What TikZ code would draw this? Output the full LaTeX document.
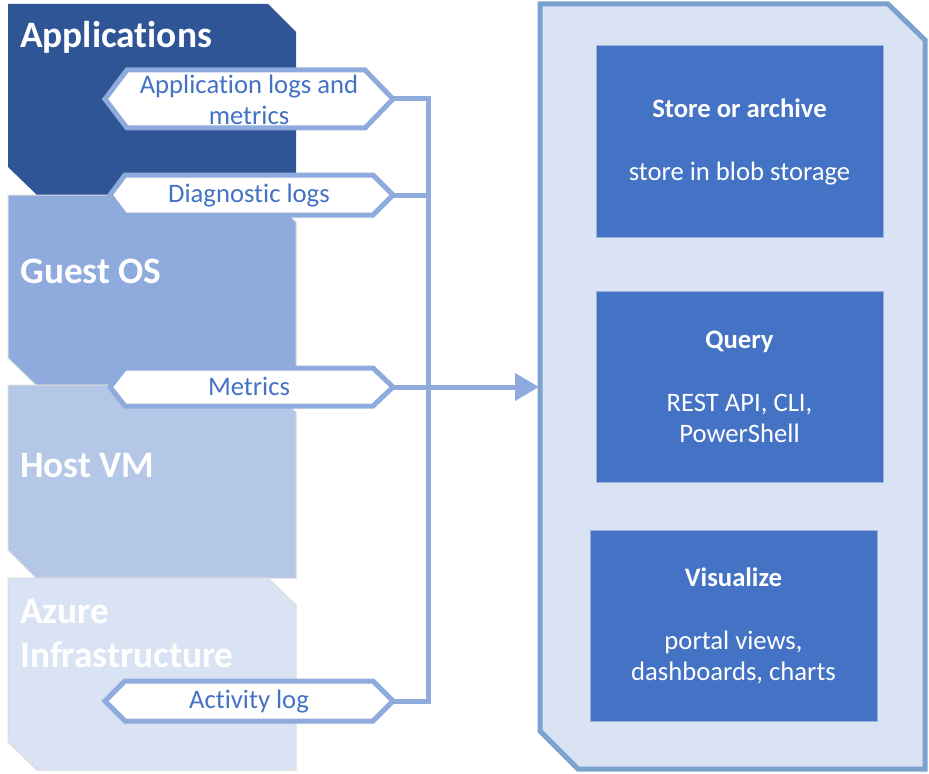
\documentclass[tikz,border=0pt]{standalone}
\usepackage{fontspec}
\setmainfont{Carlito}[Ligatures=NoCommon]
\usetikzlibrary{arrows.meta}
\definecolor{appblue}{HTML}{2F5597}
\definecolor{guestblue}{HTML}{8FAADC}
\definecolor{hostblue}{HTML}{B4C7E7}
\definecolor{azureblue}{HTML}{DAE3F3}
\definecolor{linkblue}{HTML}{8FAADC}
\definecolor{textblue}{HTML}{4472C4}
\definecolor{panelborder}{HTML}{7BA1CF}
\definecolor{cardblue}{HTML}{4472C4}
\definecolor{cardedge}{HTML}{9DB3DE}
\tikzset{
  layerbox/.style={draw=black!14, line width=0.75pt},
  layertitle/.style={text=white, inner sep=0pt, anchor=base west, font=\fontsize{28}{33}\selectfont\bfseries},
  tagshape/.style={draw=linkblue, fill=white, line width=3.75pt, line join=miter},
  tagtext/.style={text=textblue, inner sep=0pt, align=center, font=\fontsize{20}{23.25}\selectfont},
  link/.style={draw=linkblue, line width=3.75pt, line join=miter},
  panelbox/.style={draw=panelborder, fill=azureblue, line width=3.75pt, line join=miter},
  cardbox/.style={draw=cardedge, fill=cardblue, line width=0.75pt, text=white, align=center, inner sep=0pt,
    minimum width=215.25pt, minimum height=143.25pt, font=\fontsize{20}{23.6}\selectfont},
}
\begin{document}
\begin{tikzpicture}[x=0.75pt,y=-0.75pt]
\useasboundingbox (0,0) rectangle (929,774);
% layers
\fill[appblue] (8,4) -- (268,4) -- (296,32) -- (296,195) -- (37,195) -- (8,167) -- cycle;
\filldraw[layerbox, fill=guestblue] (8,195) -- (268,195) -- (296,222) -- (296,385) -- (36,385) -- (8,358) -- cycle;
\filldraw[layerbox, fill=hostblue] (8,385) -- (268,385) -- (296,412) -- (296,578) -- (36,578) -- (8,550) -- cycle;
\filldraw[layerbox, fill=azureblue] (8,578) -- (268,578) -- (296,605) -- (296,770) -- (37,770) -- (8,742) -- cycle;
\node[layertitle] (tapp) at (20,48) {Applications};
\node[layertitle] (tguest) at (20,283) {Guest OS};
\node[layertitle] (thost) at (20,477) {Host VM};
\node[layertitle, align=left, anchor=west] (tazure) at (20,634) {Azure\\Infrastructure};
% tags
\draw[tagshape] (105,99) -- (127,70) -- (365,70) -- (393,99) -- (365,128) -- (127,128) -- cycle;
\draw[tagshape] (110,195) -- (125,175) -- (373,175) -- (393,195) -- (373,215) -- (125,215) -- cycle;
\draw[tagshape] (110,387) -- (125,368) -- (373,368) -- (393,387) -- (373,406) -- (125,406) -- cycle;
\draw[tagshape] (105,701) -- (125,681) -- (373,681) -- (393,701) -- (373,721) -- (125,721) -- cycle;
\node[tagtext] (lapp) at (249,100) {Application logs and\\metrics};
\node[tagtext, anchor=base] (ldiag) at (249,202) {Diagnostic logs};
\node[tagtext, anchor=base] (lmet) at (249,395) {Metrics};
\node[tagtext, anchor=base] (lact) at (249,708) {Activity log};
\coordinate (p1) at (393,99);
\coordinate (p2) at (393,195);
\coordinate (p3) at (393,387);
\coordinate (p4) at (393,701);
\coordinate (b1) at (428,99);
\coordinate (b4) at (428,701);
% panel
\draw[panelbox] (540,4) -- (888,4) -- (925,40) -- (925,769) -- (578,769) -- (540,731) -- cycle;
\coordinate (pin) at (539,387);
% bus
\draw[link] (p1) -- (b1) -- (b4) -- (p4);
\draw[link] (p2) -- (p2 -| b1);
\draw[link, -{Triangle[length=18pt, width=20pt]}] (p3) -- (pin);
% cards
\node[cardbox] (store) at (739.5,141.5) {\textbf{Store or archive}\\[23.6pt]store in blob storage};
\node[cardbox] (query) at (739.5,387) {\textbf{Query}\\[23.6pt]REST API, CLI,\\PowerShell};
\node[cardbox] (vis) at (733.5,626) {\textbf{Visualize}\\[23.6pt]portal views,\\dashboards, charts};
\end{tikzpicture}
\end{document}
